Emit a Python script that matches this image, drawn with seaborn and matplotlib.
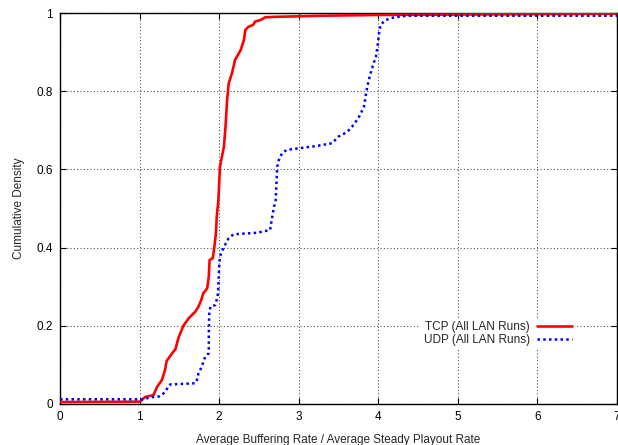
import matplotlib
matplotlib.use("Agg")
import matplotlib.pyplot as plt
import seaborn as sns
import pandas as pd

# CDF of (average buffering rate / average steady playout rate)
tcp_x = [0.0, 1.007, 1.07, 1.175, 1.22, 1.28, 1.32, 1.34, 1.41, 1.45, 1.49, 1.55,
         1.62, 1.70, 1.74, 1.775, 1.80, 1.85, 1.87, 1.88, 1.92, 1.94, 1.96, 1.97,
         1.99, 2.01, 2.06, 2.08, 2.10, 2.12, 2.16, 2.20, 2.27, 2.31, 2.33, 2.37,
         2.43, 2.45, 2.52, 2.58, 2.68, 3.27, 4.0, 7.0]
tcp_y = [0.005, 0.006, 0.018, 0.023, 0.044, 0.061, 0.087, 0.11, 0.13, 0.14, 0.17, 0.20,
         0.22, 0.236, 0.249, 0.266, 0.283, 0.296, 0.326, 0.368, 0.373, 0.402, 0.437, 0.479,
         0.52, 0.607, 0.658, 0.709, 0.777, 0.82, 0.845, 0.88, 0.905, 0.93, 0.957, 0.965,
         0.97, 0.978, 0.982, 0.989, 0.99, 0.993, 0.995, 0.998]

udp_x = [0.0, 1.045, 1.13, 1.24, 1.28, 1.32, 1.36, 1.385, 1.70, 1.72, 1.74, 1.78,
         1.825, 1.87, 1.87, 1.875, 1.89, 1.95, 1.98, 1.99, 2.00, 2.01, 2.06, 2.12,
         2.18, 2.48, 2.64, 2.66, 2.69, 2.71, 2.73, 2.75, 2.79, 2.85, 3.00, 3.23,
         3.42, 3.50, 3.61, 3.69, 3.76, 3.82, 3.84, 3.86, 3.89, 3.92, 3.97, 3.99,
         4.01, 4.03, 4.09, 4.20, 4.36, 7.0]
udp_y = [0.012, 0.012, 0.017, 0.019, 0.023, 0.031, 0.044, 0.05, 0.053, 0.061, 0.078, 0.095,
         0.121, 0.13, 0.18, 0.23, 0.249, 0.253, 0.274, 0.30, 0.351, 0.377, 0.402, 0.424,
         0.434, 0.438, 0.445, 0.47, 0.505, 0.52, 0.607, 0.624, 0.641, 0.65, 0.654, 0.66,
         0.667, 0.684, 0.696, 0.714, 0.735, 0.76, 0.786, 0.81, 0.836, 0.858, 0.888, 0.914,
         0.949, 0.97, 0.982, 0.989, 0.993, 0.993]

tcp_label = "TCP (All LAN Runs)"
udp_label = "UDP (All LAN Runs)"
x_ticks = [0, 1, 2, 3, 4, 5, 6, 7]
y_ticks = [0, 0.2, 0.4, 0.6, 0.8, 1]

sns.set_style("ticks")
plt.rcParams["font.family"] = ["Liberation Sans", "DejaVu Sans"]

fig = plt.figure(figsize=(6.18, 4.45), dpi=100)
ax = fig.add_axes([60 / 618, 1 - 404 / 445, 557 / 618, 391 / 445])

tcp = pd.DataFrame({"x": tcp_x, "y": tcp_y})
udp = pd.DataFrame({"x": udp_x, "y": udp_y})

sns.lineplot(data=tcp, x="x", y="y", ax=ax, sort=False, estimator=None,
             color="#ff0000", linewidth=1.9, label=tcp_label, zorder=3)
sns.lineplot(data=udp, x="x", y="y", ax=ax, sort=False, estimator=None,
             color="#0000ff", linewidth=1.8, linestyle=(0, (1, 1.3)),
             label=udp_label, zorder=3)

ax.set_xlim(0, 7)
ax.set_ylim(0, 1)
ax.set_xticks(x_ticks)
ax.set_yticks(y_ticks)
ax.set_xticklabels([str(t) for t in x_ticks])
ax.set_yticklabels(["0", "0.2", "0.4", "0.6", "0.8", "1"])

ax.grid(True, color="#555555", linestyle=(0, (1, 2)), linewidth=0.8)
ax.tick_params(direction="in", length=4, width=0.8, labelsize=8.5,
               top=True, right=True, colors="black", pad=5)
for s in ax.spines.values():
    s.set_linewidth(1.0)
    s.set_color("black")
    s.set_visible(True)

ax.set_xlabel("Average Buffering Rate / Average Steady Playout Rate", fontsize=8.5, labelpad=8)
ax.set_ylabel("Cumulative Density", fontsize=8.5, labelpad=8)

leg = ax.legend(loc="lower right", bbox_to_anchor=(0.937, 0.124), markerfirst=False,
                frameon=True, fontsize=8.5, handlelength=3.0, handletextpad=0.6,
                labelspacing=0.05, borderpad=0.3, fancybox=False)
leg.get_frame().set_facecolor("white")
leg.get_frame().set_edgecolor("none")
leg.get_frame().set_alpha(1)

fig.savefig("out.png", dpi=100)
